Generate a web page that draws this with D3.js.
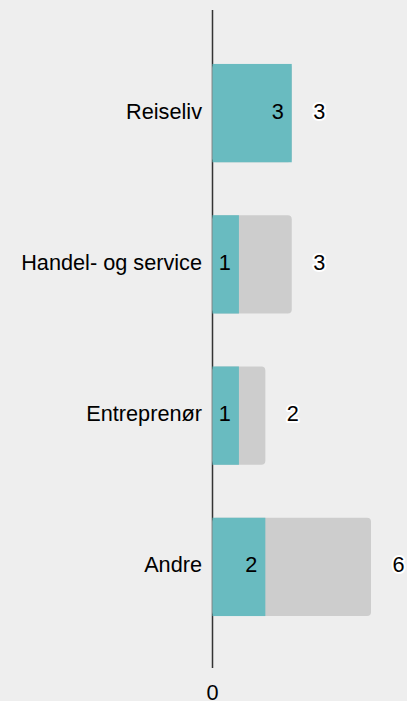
<!DOCTYPE html>
<html>
<head>
<meta charset="utf-8">
<script src="https://cdn.jsdelivr.net/npm/d3@7"></script>
<style>
  html, body { margin: 0; padding: 0; background: #eeeeee; }
  svg { display: block; }
  text { font-family: "Liberation Sans", Arial, sans-serif; font-size: 21.7px; fill: #000; }
</style>
</head>
<body>
<svg id="chart"></svg>
<script>
// data
const categories = ["Reiseliv", "Handel- og service", "Entreprenør", "Andre"];
const partValues = [3, 1, 1, 2];
const totalValues = [3, 3, 2, 6];
const xTicks = [0];

const width = 407, height = 701;
const teal = "#69bbc0", grey = "#cdcdcd";

const svg = d3.select("#chart")
    .attr("width", width)
    .attr("height", height);

const rows = categories.map((c, i) => ({ cat: c, part: partValues[i], total: totalValues[i] }));

// scales
const x = d3.scaleLinear()
    .domain([0, 6])
    .range([212.5, 371]);

const y = d3.scaleBand()
    .domain(categories)
    .range([11, 669])
    .padding(0.35);

// axis line
svg.append("line")
    .attr("x1", x(0)).attr("x2", x(0))
    .attr("y1", 10).attr("y2", 668)
    .attr("stroke", "#333")
    .attr("stroke-width", 1.5);

// zero label at bottom
svg.selectAll(".tick-label")
    .data(xTicks)
    .join("text")
    .attr("class", "tick-label")
    .attr("x", d => x(d))
    .attr("y", 700)
    .attr("text-anchor", "middle")
    .text(d => d);

const g = svg.selectAll(".row")
    .data(rows)
    .join("g")
    .attr("class", "row");

// total bar (grey, rounded)
g.append("rect")
    .attr("x", x(0))
    .attr("y", d => y(d.cat))
    .attr("width", d => x(d.total) - x(0))
    .attr("height", y.bandwidth())
    .attr("rx", 4)
    .attr("fill", grey);

// part bar (teal)
g.append("rect")
    .attr("x", x(0))
    .attr("y", d => y(d.cat))
    .attr("width", d => x(d.part) - x(0))
    .attr("height", y.bandwidth())
    .attr("fill", teal);

// category labels
g.append("text")
    .attr("x", 202)
    .attr("y", d => y(d.cat) + y.bandwidth() / 2)
    .attr("dy", "0.25em")
    .attr("text-anchor", "end")
    .text(d => d.cat);

// value inside teal bar
g.append("text")
    .attr("x", d => x(d.part) - 8)
    .attr("y", d => y(d.cat) + y.bandwidth() / 2)
    .attr("dy", "0.25em")
    .attr("text-anchor", "end")
    .text(d => d.part);

// total value with white halo
g.append("text")
    .attr("x", d => x(d.total) + 21.5)
    .attr("y", d => y(d.cat) + y.bandwidth() / 2)
    .attr("dy", "0.25em")
    .attr("text-anchor", "start")
    .style("stroke", "#fff")
    .style("stroke-width", 4)
    .style("stroke-linejoin", "round")
    .style("paint-order", "stroke")
    .text(d => d.total);
</script>
</body>
</html>
